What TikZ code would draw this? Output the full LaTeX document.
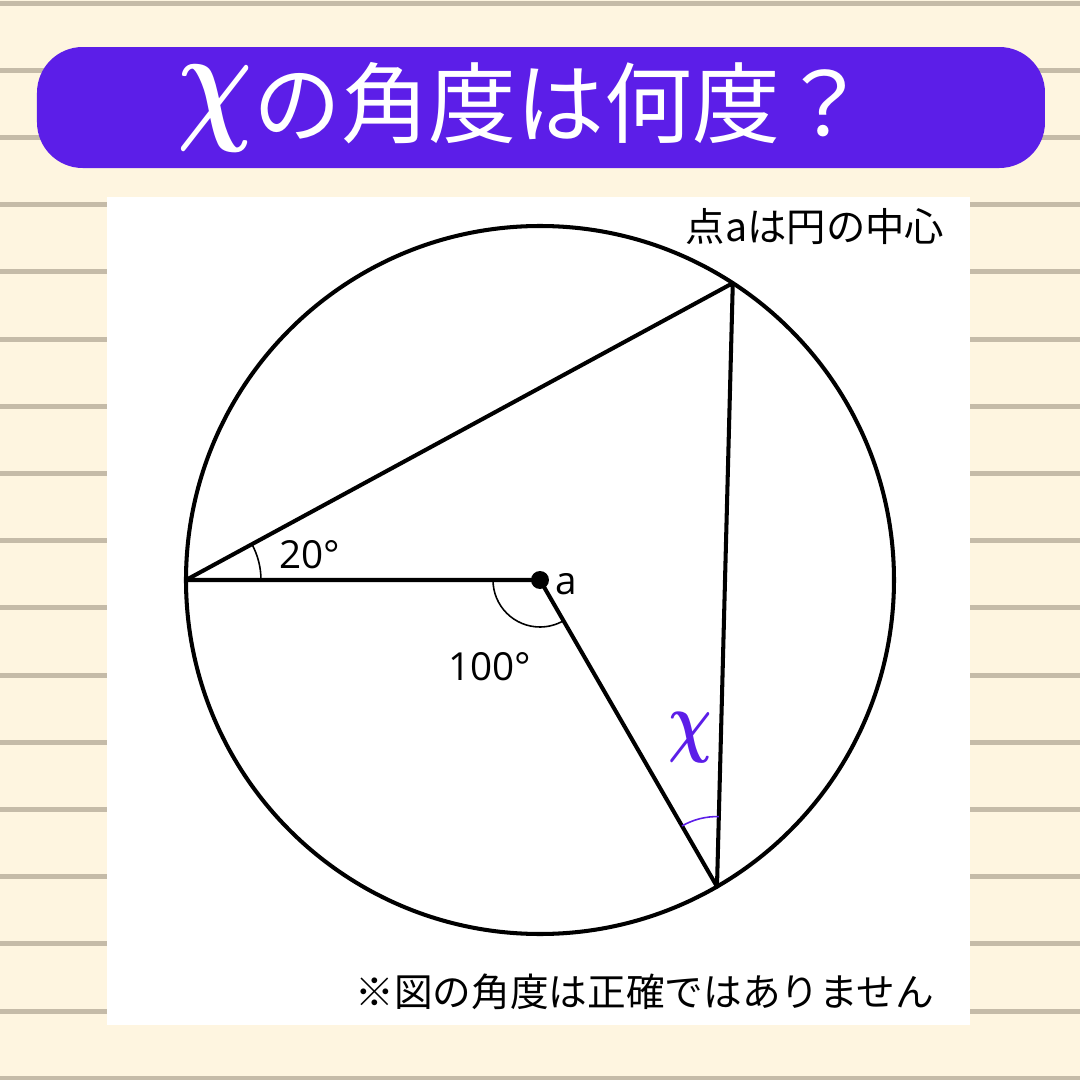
\documentclass[tikz,border=0pt]{standalone}
\usepackage{amsmath}
\usepackage{fontspec}
\setmainfont{Open Sans}
\newfontfamily\jp{Noto Sans CJK JP}
\definecolor{cream}{HTML}{FEF5E0}
\definecolor{stripe}{HTML}{C5BBA8}
\definecolor{purp}{HTML}{5C1EE8}
\tikzset{
  geo/.style={line width=1.15pt, line cap=round, line join=round},
  thinarc/.style={line width=0.45pt},
  lbl/.style={inner sep=0pt, font=\fontsize{11}{13}\selectfont},
  note/.style={inner sep=0pt, font=\jp\fontsize{11.2}{13}\selectfont},
}
\begin{document}
\begin{tikzpicture}[x=0.1mm,y=0.1mm]
\useasboundingbox (0,0) rectangle (1080,1080);
\fill[cream] (0,0) rectangle (1080,1080);
\foreach \k in {0,...,16}
  \fill[stripe] (0,{1077-67.2*\k-2.5}) rectangle (1080,{1077-67.2*\k+2.5});
% banner
\fill[purp, rounded corners=13pt] (37,912) rectangle (1045,1033);
\node[inner sep=0pt, text=white, font=\jp\fontsize{25}{30}\selectfont] (title) at (523,973)
  {\raisebox{0.12em}{\scalebox{1.2}[1.55]{$\boldsymbol{\chi}$}}の角度は何度？};
% panel
\fill[white] (107,55) rectangle (970,883);
\node[note, anchor=east] (n1) at (945,853) {点aは円の中心};
\node[note, anchor=east, font=\jp\fontsize{11}{13}\selectfont] (n2) at (935,88) {※図の角度は正確ではありません};
% geometry
\coordinate (O) at (540,500);
\path (O) ++(180:354) coordinate (A);
\path (O) ++(57:354) coordinate (C);
\path (O) ++(-60:354) coordinate (B);
\draw[geo] (O) circle (354);
\draw[geo] (A) -- (C) -- (B);
\draw[geo] (A) -- (O) -- (B);
\fill (O) circle (9);
% angle arcs
\draw[thinarc] (A) ++(0:75) arc[start angle=0, end angle=28.5, radius=75];
\draw[thinarc] (O) ++(180:47) arc[start angle=180, end angle=300, radius=47];
\draw[thinarc, purp] (B) ++(88.5:70) arc[start angle=88.5, end angle=120, radius=70];
% labels
\node[lbl] (l20) at (310,525) {20°};
\node[lbl] (l100) at (490,413) {100°};
\node[lbl] (la) at (566,496) {a};
\node[inner sep=0pt, text=purp, font=\fontsize{18}{20}\selectfont] (lx) at (690,342) {\scalebox{1}[1.3]{$\boldsymbol{\chi}$}};
\end{tikzpicture}
\end{document}
